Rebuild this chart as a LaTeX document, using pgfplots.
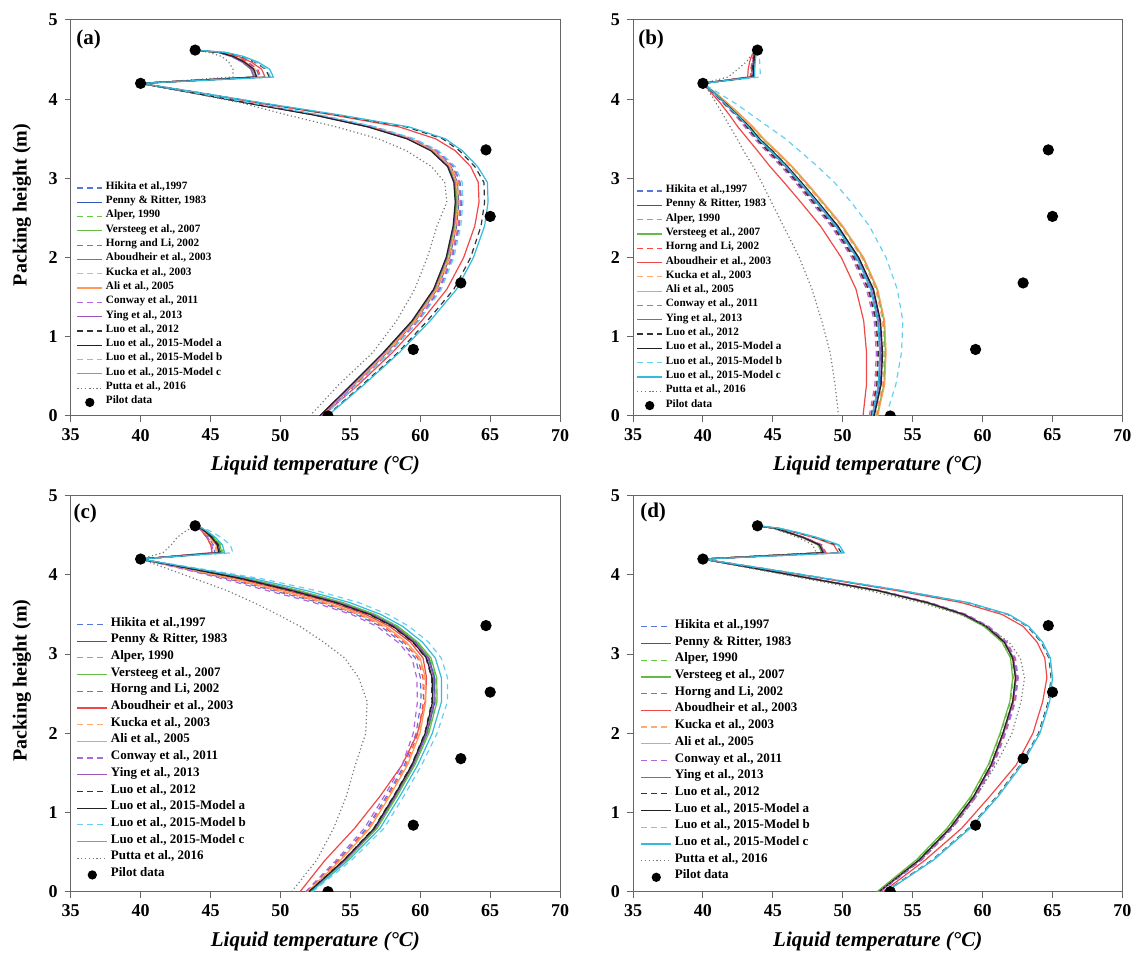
\documentclass[border=0pt]{standalone}
\usepackage{fontspec}
\setmainfont{Liberation Serif}
\usepackage{pgfplots}
\usepackage{pgfplotstable}
\pgfplotsset{compat=1.18}

\definecolor{cHik}{HTML}{5577DD}
\definecolor{cPen}{HTML}{3355BB}
\definecolor{cAlp}{HTML}{66CC44}
\definecolor{cVer}{HTML}{66BB44}
\definecolor{cHor}{HTML}{FF4444}
\definecolor{cAbo}{HTML}{F04848}
\definecolor{cKuc}{HTML}{FFAA77}
\definecolor{cAli}{HTML}{FF9955}
\definecolor{cCon}{HTML}{B066DD}
\definecolor{cYin}{HTML}{9955BB}
\definecolor{cL12}{HTML}{333333}
\definecolor{cLma}{HTML}{222222}
\definecolor{cLmb}{HTML}{66D0EE}
\definecolor{cLmc}{HTML}{33BBDD}
\definecolor{cPut}{HTML}{777777}

% panel (a)
\pgfplotstableread{
y    hik   pen   alp   ver   hor   abo   kuc   ali   con   yin   l12   lma   lmb   lmc   put
0    53.0  52.9  52.85 52.8  52.95 53.0  52.9  52.9  52.95 52.8  53.3  52.8  53.1  53.35 52.1
0.4  55.45 55.3  55.2  55.2  55.35 55.6  55.35 55.25 55.4  55.15 55.9  55.1  55.5  56.0  54.2
0.8  57.8  57.6  57.5  57.45 57.7  58.0  57.65 57.55 57.75 57.4  58.4  57.35 57.8  58.5  56.6
1.2  59.85 59.65 59.55 59.5  59.75 60.1  59.7  59.6  59.8  59.45 60.5  59.4  59.9  60.7  58.3
1.6  61.4  61.2  61.1  61.05 61.3  61.9  61.25 61.15 61.35 61.0  62.4  60.95 61.5  62.6  59.6
2.0  62.3  62.1  62.0  61.95 62.2  63.1  62.15 62.05 62.25 61.9  63.6  61.85 62.4  63.8  60.5
2.4  62.8  62.6  62.5  62.45 62.7  63.9  62.65 62.55 62.75 62.4  64.35 62.35 62.9  64.6  61.2
2.7  62.95 62.75 62.65 62.6  62.85 64.2  62.8  62.7  62.9  62.55 64.6  62.5  63.05 64.85 61.9
2.95 62.85 62.65 62.55 62.5  62.75 64.15 62.7  62.6  62.8  62.45 64.55 62.4  63.0  64.8  61.75
3.15 62.4  62.2  62.1  62.05 62.3  63.6  62.25 62.15 62.35 62.0  63.9  61.95 62.5  64.1  60.8
3.35 61.2  61.0  60.9  60.85 61.1  62.5  61.05 60.95 61.15 60.8  62.8  60.75 61.3  63.0  59.0
3.5  59.5  59.3  59.2  59.15 59.4  61.1  59.35 59.25 59.45 59.1  61.6  59.05 59.6  61.8  57.0
3.65 56.7  56.5  56.4  56.35 56.6  58.5  56.55 56.45 56.65 56.3  59.0  56.25 56.8  59.2  54.0
3.8  52.75 52.6  52.5  52.5  52.7  53.8  52.65 52.55 52.7  52.45 54.0  52.4  52.9  54.3  50.5
3.95 47.9  47.8  47.75 47.7  47.85 48.5  47.8  47.8  47.85 47.7  48.7  47.65 48.0  48.8  47.3
4.08 43.85 43.8  43.8  43.75 43.8  44.2  43.8  43.8  43.85 43.75 44.3  43.75 43.9  44.3  43.6
4.2  40    40    40    40    40    40    40    40    40    40    40    40    40    40    40
4.28 48.5  48.3  48.2  48.1  48.6  48.9  48.4  48.3  48.2  48.1  49.2  48.3  49.3  49.5  46.6
4.38 48.27 48.08 47.99 47.89 48.37 48.65 48.18 48.08 47.99 47.89 48.94 48.08 49.03 49.22 46.6
4.47 47.58 47.42 47.34 47.26 47.66 47.90 47.50 47.42 47.34 47.26 48.14 47.42 48.22 48.38 46.3
4.54 46.75 46.63 46.57 46.50 46.81 47.00 46.69 46.63 46.57 46.50 47.19 46.63 47.25 47.37 45.8
4.59 45.74 45.66 45.62 45.58 45.78 45.90 45.70 45.66 45.62 45.58 46.02 45.66 46.06 46.14 44.9
4.62 43.9  43.9  43.9  43.9  43.9  43.9  43.9  43.9  43.9  43.9  43.9  43.9  43.9  43.9  43.9
}\tblA

% panel (b)
\pgfplotstableread{
y    hik   pen   alp   ver   hor   abo   kuc   ali   con   yin   l12   lma   lmb   lmc   put
0    52.1  52.2  52.4  52.45 52.0  51.45 52.35 52.5  51.9  52.1  52.05 52.25 53.1  52.1  49.7
0.4  52.55 52.7  52.9  52.95 52.4  51.7  52.85 53.0  52.3  52.6  52.45 52.75 53.8  52.55 49.45
0.8  52.65 52.8  53.0  53.05 52.5  51.7  52.95 53.1  52.4  52.7  52.55 52.85 54.2  52.65 49.1
1.2  52.5  52.65 52.9  52.95 52.35 51.5  52.85 53.0  52.25 52.55 52.4  52.7  54.3  52.5  48.5
1.6  51.95 52.15 52.4  52.45 51.8  50.95 52.35 52.5  51.7  52.05 51.85 52.2  53.9  52.0  47.8
2.0  50.9  51.1  51.4  51.45 50.75 49.9  51.35 51.5  50.65 51.0  50.8  51.15 53.1  51.0  46.9
2.4  49.4  49.6  49.9  49.95 49.25 48.4  49.85 50.0  49.15 49.5  49.3  49.65 51.9  49.5  45.75
2.7  48.0  48.2  48.5  48.55 47.85 47.0  48.45 48.6  47.75 48.1  47.9  48.25 50.6  48.15 44.9
2.95 46.85 47.0  47.3  47.35 46.7  45.8  47.25 47.4  46.6  46.9  46.75 47.05 49.4  46.95 44.2
3.15 45.85 46.0  46.3  46.35 45.7  44.8  46.25 46.4  45.6  45.9  45.75 46.05 48.2  45.95 43.6
3.35 44.75 44.9  45.15 45.2  44.6  43.9  45.1  45.25 44.5  44.8  44.65 44.95 46.9  44.85 42.9
3.5  43.9  44.0  44.25 44.3  43.8  43.2  44.2  44.35 43.7  43.95 43.85 44.05 45.9  43.95 42.45
3.65 43.2  43.3  43.5  43.55 43.1  42.5  43.45 43.6  43.0  43.25 43.15 43.35 44.7  43.25 41.95
3.8  42.4  42.5  42.65 42.7  42.35 41.9  42.6  42.7  42.3  42.45 42.4  42.5  43.5  42.45 41.45
3.95 41.55 41.6  41.7  41.75 41.5  41.25 41.65 41.75 41.45 41.55 41.5  41.6  42.3  41.55 40.95
4.08 40.8  40.8  40.85 40.9  40.75 40.6  40.85 40.9  40.7  40.8  40.75 40.8  41.1  40.8  40.5
4.2  40    40    40    40    40    40    40    40    40    40    40    40    40    40    40
4.28 43.5  43.6  43.6  43.6  43.4  43.2  43.6  43.6  43.5  43.5  43.5  43.6  44.1  43.7  41.8
4.38 43.52 43.62 43.62 43.62 43.43 43.24 43.62 43.62 43.52 43.52 43.52 43.62 44.09 43.71 42.5
4.47 43.58 43.66 43.66 43.66 43.5  43.34 43.66 43.66 43.58 43.58 43.58 43.66 44.06 43.74 43.1
4.54 43.65 43.71 43.71 43.71 43.59 43.47 43.71 43.71 43.65 43.65 43.65 43.71 44.02 43.78 43.4
4.59 43.74 43.78 43.78 43.78 43.7  43.62 43.78 43.78 43.74 43.74 43.74 43.78 43.98 43.82 43.7
4.62 43.9  43.9  43.9  43.9  43.9  43.9  43.9  43.9  43.9  43.9  43.9  43.9  43.9  43.9  43.9
}\tblB

% panel (c)
\pgfplotstableread{
y    hik   pen   alp   ver   hor   abo   kuc   ali   con   yin   l12   lma   lmb   lmc   put
0    51.86 52.09 52.11 52.13 51.9  51.4  51.93 51.94 51.8  52.08 52.04 52.05 52.3  52.2  50.8
0.4  54.13 54.64 54.68 54.72 54.22 53.2  54.28 54.31 54.0  54.61 54.53 54.55 55.1  54.88 52.6
0.8  56.17 56.81 56.87 56.91 56.28 55.3  56.35 56.39 56.0  56.77 56.67 56.7  57.4  57.12 53.8
1.2  57.57 58.21 58.27 58.31 57.68 57.1  57.75 57.79 57.4  58.17 58.07 58.1  58.8  58.52 54.7
1.6  58.87 59.51 59.57 59.61 58.98 58.7  59.05 59.09 58.7  59.47 59.37 59.4  60.1  59.82 55.35
2.0  59.7  60.49 60.55 60.61 59.84 59.8  59.93 59.98 59.5  60.44 60.32 60.35 61.2  60.86 56.1
2.4  60.06 61.05 61.13 61.2  60.23 60.35 60.34 60.4  59.8  60.98 60.83 60.88 61.95 61.52 56.2
2.7  60.01 61.03 61.11 61.18 60.19 60.45 60.3  60.37 59.75 60.96 60.81 60.85 61.95 61.51 55.6
2.95 59.65 60.62 60.7  60.77 59.82 60.2  59.93 59.99 59.4  60.56 60.41 60.45 61.5  61.08 54.6
3.15 58.66 59.68 59.76 59.83 58.84 59.3  58.95 59.02 58.4  59.61 59.46 59.5  60.6  60.16 53.1
3.35 57.18 58.23 58.33 58.4  57.36 57.8  57.48 57.54 56.9  58.17 58.0  58.05 59.2  58.74 51.4
3.5  55.41 56.61 56.71 56.79 55.62 56.1  55.75 55.83 55.1  56.53 56.35 56.4  57.7  57.18 49.8
3.65 52.78 54.26 54.38 54.48 53.04 53.7  53.2  53.3  52.4  54.16 53.94 54.0  55.6  54.96 48.1
3.8  49.52 51.13 51.27 51.38 49.8  50.5  49.98 50.08 49.1  51.03 50.78 50.85 52.6  51.9  46.2
3.95 46.24 47.52 47.64 47.72 46.46 47.0  46.6  46.68 45.9  47.44 47.24 47.3  48.7  48.14 43.9
4.08 43.06 43.65 43.71 43.75 43.16 43.4  43.23 43.26 42.9  43.62 43.52 43.55 44.2  43.94 41.9
4.2  40    40    40    40    40    40    40    40    40    40    40    40    40    40    40
4.28 45.3  45.7  45.9  45.8  45.1  45.1  45.4  45.5  45.2  45.6  45.7  45.6  46.6  46.0  41.6
4.38 45.2  45.57 45.76 45.67 45.02 45.02 45.3  45.39 45.11 45.48 45.57 45.48 46.41 45.85 42.2
4.47 44.88 45.16 45.3  45.23 44.74 44.74 44.95 45.02 44.81 45.09 45.16 45.09 45.79 45.37 42.6
4.54 44.53 44.71 44.8  44.76 44.44 44.44 44.58 44.62 44.49 44.67 44.71 44.67 45.12 44.85 43.1
4.59 44.24 44.33 44.38 44.36 44.19 44.19 44.26 44.28 44.21 44.31 44.33 44.31 44.55 44.4  43.6
4.62 43.9  43.9  43.9  43.9  43.9  43.9  43.9  43.9  43.9  43.9  43.9  43.9  43.9  43.9  43.9
}\tblC

% panel (d)
\pgfplotstableread{
y    hik   pen   alp   ver   hor   abo   kuc   ali   con   yin   l12   lma   lmb   lmc   put
0    52.65 52.6  52.5  52.45 52.6  52.9  52.6  52.6  52.7  52.6  53.05 52.6  53.1  53.1  52.6
0.4  55.6  55.5  55.3  55.25 55.55 55.9  55.5  55.45 55.65 55.5  56.4  55.45 56.45 56.5  55.6
0.8  57.8  57.7  57.5  57.45 57.75 58.5  57.7  57.65 57.85 57.7  59.0  57.65 59.05 59.1  57.8
1.2  59.5  59.4  59.2  59.15 59.45 60.5  59.4  59.35 59.55 59.4  61.0  59.35 61.05 61.1  59.55
1.6  60.75 60.65 60.45 60.4  60.7  62.4  60.65 60.6  60.8  60.65 62.7  60.6  62.75 62.8  60.95
2.0  61.6  61.5  61.3  61.25 61.55 63.6  61.5  61.45 61.65 61.5  64.0  61.45 64.05 64.1  62.1
2.4  62.3  62.2  62.0  61.95 62.25 64.3  62.2  62.15 62.35 62.2  64.7  62.15 64.75 64.8  62.75
2.7  62.5  62.4  62.2  62.15 62.45 64.6  62.4  62.35 62.55 62.4  64.9  62.35 64.95 65.0  63.0
2.95 62.3  62.2  62.05 62.0  62.25 64.45 62.2  62.15 62.35 62.2  64.75 62.15 64.8  64.85 62.7
3.15 61.7  61.6  61.45 61.4  61.65 63.9  61.6  61.55 61.75 61.6  64.2  61.55 64.25 64.3  61.9
3.35 60.4  60.3  60.15 60.1  60.35 62.9  60.3  60.25 60.45 60.3  63.2  60.25 63.25 63.3  60.3
3.5  58.8  58.7  58.55 58.5  58.75 61.4  58.7  58.65 58.85 58.7  61.8  58.65 61.85 61.9  58.4
3.65 56.2  56.1  55.95 55.9  56.15 58.5  56.1  56.05 56.25 56.1  58.9  56.05 58.95 59.0  55.6
3.8  52.7  52.6  52.5  52.45 52.65 53.9  52.6  52.55 52.75 52.6  54.2  52.55 54.25 54.3  51.9
3.95 47.95 47.9  47.8  47.75 47.9  48.8  47.9  47.85 48.0  47.9  48.95 47.85 49.0  49.0  47.4
4.08 43.8  43.8  43.75 43.75 43.8  44.3  43.8  43.8  43.85 43.8  44.35 43.8  44.4  44.4  43.5
4.2  40    40    40    40    40    40    40    40    40    40    40    40    40    40    40
4.28 48.7  48.7  48.5  48.5  48.8  49.7  48.7  48.6  48.6  48.7  49.9  48.6  50.0  50.1  48.1
4.38 48.41 48.41 48.22 48.22 48.51 49.35 48.41 48.32 48.32 48.41 49.54 48.32 49.63 49.73 47.85
4.47 47.26 47.26 47.12 47.12 47.33 47.96 47.26 47.19 47.19 47.26 48.1  47.19 48.17 48.24 46.84
4.54 46.06 46.06 45.97 45.97 46.11 46.51 46.06 46.02 46.02 46.06 46.6  46.02 46.65 46.69 45.79
4.59 45.1  45.1  45.05 45.05 45.13 45.35 45.1  45.08 45.08 45.1  45.4  45.08 45.43 45.45 44.95
4.62 43.9  43.9  43.9  43.9  43.9  43.9  43.9  43.9  43.9  43.9  43.9  43.9  43.9  43.9  43.9
}\tblD

% pilot plant measurements (same in every panel)
\pgfplotstableread{
x    y
53.4 0
59.5 0.84
62.9 1.68
65.0 2.52
64.7 3.36
40.0 4.2
43.9 4.62
}\pilot

\def\LL{12.5pt}\def\LLh{6.25pt}

\pgfplotsset{
  myimg/.style={legend image code/.code={%
    \draw[mark repeat=2,mark phase=2,##1] plot coordinates {(0pt,0pt) (\LLh,0pt) (\LL,0pt)};}},
  mydash/.style={dash pattern=on 2.8pt off 2.2pt},
  mydot/.style={dash pattern=on 0.6pt off 1.3pt},
  panel/.style={
    scale only axis, width=244.7pt, height=198pt, anchor=south west,
    xmin=35, xmax=70, ymin=0, ymax=5,
    xtick={35,40,...,70}, ytick={0,1,...,5},
    tick align=outside, major tick length=3pt,
    xtick pos=left, ytick pos=left,
    clip marker paths=true,
    axis line style={line width=0.5pt, color=black!60},
    every tick/.style={black!60, line width=0.5pt},
    ticklabel style={font=\fontsize{9}{9}\selectfont\bfseries},
    /pgf/number format/assume math mode=true,
    xlabel={\bfseries\itshape Liquid temperature (°C)},
    xlabel style={font=\fontsize{10.5}{12}\selectfont, at={(axis description cs:0.5,-0.126)}, anchor=center},
    ylabel style={font=\fontsize{10}{12}\selectfont\bfseries, at={(axis description cs:-0.0995,0.533)}, anchor=center},
    every axis plot/.append style={line width=0.6pt, myimg},
    every legend image post/.append style={mark size=2pt},
    legend cell align=left,
    legend style={draw=none, fill=none, inner sep=0pt, outer sep=0pt,
      column sep=1.5pt, row sep=0pt, anchor=north west},
  },
  legsmall/.style={legend style={font=\fontsize{5.6}{5.6}\selectfont\bfseries,
      nodes={inner sep=0pt, text height=4.3pt, text depth=2.85pt}}},
  legbig/.style={legend style={font=\fontsize{6.5}{6.5}\selectfont\bfseries,
      nodes={inner sep=0pt, text height=5.0pt, text depth=3.35pt}}},
}

\newcommand\curves[1]{%
  \addplot[cHik, mydash] table[x=hik, y=y] {#1};
  \addplot[cPen] table[x=pen, y=y] {#1};
  \addplot[cAlp, mydash] table[x=alp, y=y] {#1};
  \addplot[cVer] table[x=ver, y=y] {#1};
  \addplot[cHor, mydash] table[x=hor, y=y] {#1};
  \addplot[cAbo] table[x=abo, y=y] {#1};
  \addplot[cKuc, mydash] table[x=kuc, y=y] {#1};
  \addplot[cAli] table[x=ali, y=y] {#1};
  \addplot[cCon, mydash] table[x=con, y=y] {#1};
  \addplot[cYin] table[x=yin, y=y] {#1};
  \addplot[cL12, mydash] table[x=l12, y=y] {#1};
  \addplot[cLma] table[x=lma, y=y] {#1};
  \addplot[cLmb, mydash] table[x=lmb, y=y] {#1};
  \addplot[cLmc] table[x=lmc, y=y] {#1};
  \addplot[cPut, mydot] table[x=put, y=y] {#1};
  \addplot[only marks, mark=*, mark size=2.5pt, black, myimg] table[x=x, y=y] {\pilot};
  \legend{{Hikita et al.,1997},{Penny \& Ritter, 1983},{Alper, 1990},{Versteeg et al., 2007},
    {Horng and Li, 2002},{Aboudheir et al., 2003},{Kucka et al., 2003},{Ali et al., 2005},
    {Conway et al., 2011},{Ying et al., 2013},{Luo et al., 2012},{Luo et al., 2015-Model a},
    {Luo et al., 2015-Model b},{Luo et al., 2015-Model c},{Putta et al., 2016},{Pilot data}}
}

\begin{document}
\begin{tikzpicture}
\useasboundingbox (0,0) rectangle (565.5pt,477pt);

\def\LL{12.5pt}\def\LLh{6.25pt}
\begin{axis}[panel, at={(35.35pt,269pt)}, ylabel={Packing height (m)}, legsmall,
  legend style={at={(0.0123,0.594)}}]
  \curves{\tblA}
  \node[anchor=north west, inner sep=0pt, font=\fontsize{10.5}{10.5}\selectfont\bfseries] at (rel axis cs:0.011,0.977) {(a)};
\end{axis}

\begin{axis}[panel, at={(316.5pt,269pt)}, legsmall,
  legend style={at={(0.0074,0.586)}}]
  \curves{\tblB}
  \node[anchor=north west, inner sep=0pt, font=\fontsize{10.5}{10.5}\selectfont\bfseries] at (rel axis cs:0.010,0.975) {(b)};
\end{axis}

\def\LL{15pt}\def\LLh{7.5pt}
\begin{axis}[panel, at={(35.35pt,31.15pt)}, ylabel={Packing height (m)}, legbig,
  legend style={at={(0.0123,0.696)}}]
  \curves{\tblC}
  \node[anchor=north west, inner sep=0pt, font=\fontsize{10.5}{10.5}\selectfont\bfseries] at (rel axis cs:0.005,0.981) {(c)};
\end{axis}

\begin{axis}[panel, at={(316.5pt,31.15pt)}, legbig,
  legend style={at={(0.0157,0.690)}}]
  \curves{\tblD}
  \node[anchor=north west, inner sep=0pt, font=\fontsize{10.5}{10.5}\selectfont\bfseries] at (rel axis cs:0.014,0.984) {(d)};
\end{axis}
\end{tikzpicture}
\end{document}
